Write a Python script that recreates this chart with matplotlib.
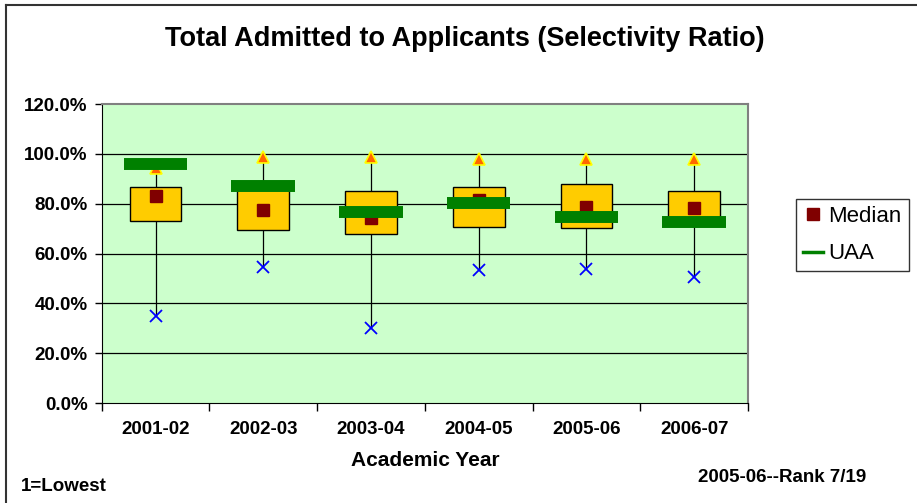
import numpy as np
import matplotlib.pyplot as plt
from matplotlib.lines import Line2D

plt.rcParams['font.family'] = ['Liberation Sans', 'DejaVu Sans']

years = ["2001-02", "2002-03", "2003-04", "2004-05", "2005-06", "2006-07"]
q1 = [73.0, 69.5, 67.7, 70.7, 70.2, 73.5]
q3 = [86.7, 86.0, 85.0, 86.7, 87.8, 85.0]
median = [82.9, 77.5, 74.2, 81.5, 78.6, 78.2]
uaa = [96.0, 87.0, 76.8, 80.4, 74.6, 72.7]
maxv = [94.5, 98.9, 98.9, 97.9, 98.0, 98.0]
minv = [34.9, 54.5, 30.2, 53.4, 53.9, 50.5]
yticks = [0, 20, 40, 60, 80, 100, 120]

x = np.arange(len(years))

fig = plt.figure(figsize=(9.17, 5.03), dpi=100)
ax = fig.add_axes([0.1109, 0.1988, 0.7048, 0.5944])
ax.set_facecolor('#CCFFCC')

# whiskers
ax.vlines(x, minv, maxv, color='black', lw=0.9, zorder=2)
# boxes
ax.bar(x, np.array(q3) - np.array(q1), bottom=q1, width=0.48,
       color='#FFCC00', edgecolor='black', lw=1, zorder=3)
ax.plot(x, median, 's', color='#800000', ms=8.6, zorder=4, label='Median')
ax.hlines(uaa, x - 0.295, x + 0.295, color='#008000', lw=8.6, zorder=5,
          capstyle='butt')
ax.plot(x, maxv, '^', color='#FF6600', mec='#FFFF00', mew=1.2, ms=9, zorder=4)
ax.plot(x, minv, 'x', color='#0000FF', ms=9, mew=1.3, zorder=4)

ax.set_xlim(-0.5, len(years) - 0.5)
ax.set_ylim(0, 120)
ax.set_yticks(yticks)
ax.set_yticklabels(["%.1f%%" % v for v in yticks], fontsize=13.5, fontweight='bold')
ax.set_xticks(x)
ax.set_xticklabels(years, fontsize=13.5, fontweight='bold')
ax.set_xticks(np.arange(-0.5, len(years)), minor=True)
ax.tick_params(axis='x', which='major', length=0, pad=13)
ax.tick_params(axis='x', which='minor', length=6, width=1)
ax.tick_params(axis='y', length=5, width=1, pad=5)
for v in yticks[1:-1]:
    ax.axhline(v, color='black', lw=0.9, zorder=1)
ax.spines['top'].set_color('#808080')
ax.spines['right'].set_color('#808080')
ax.spines['top'].set_linewidth(1.5)
ax.spines['right'].set_linewidth(1.5)

ax.set_xlabel("Academic Year", fontsize=15, fontweight='bold', labelpad=9)

fig.text(0.507, 0.922, "Total Admitted to Applicants (Selectivity Ratio)",
         ha='center', va='center', fontsize=19.5, fontweight='bold')
fig.text(0.023, 0.032, "1=Lowest", ha='left', va='center', fontsize=13.5,
         fontweight='bold')
fig.text(0.761, 0.050, "2005-06--Rank 7/19", ha='left', va='center',
         fontsize=13.5, fontweight='bold')

handles = [Line2D([], [], marker='s', ls='none', color='#800000', ms=8.6),
           Line2D([], [], color='#008000', lw=2.5)]
leg = fig.legend(handles, ['Median', 'UAA'], loc='upper left',
                 bbox_to_anchor=(0.868, 0.6044), bbox_transform=fig.transFigure,
                 borderaxespad=0, fontsize=16, frameon=True, fancybox=False,
                 handlelength=0.9, handletextpad=0.27, borderpad=0.3,
                 labelspacing=0.75)
leg.get_frame().set_edgecolor('black')
leg.get_frame().set_linewidth(1)

# chart border (left and top visible)
fig.add_artist(Line2D([5.5 / 917, 5.5 / 917], [0, 1 - 5 / 503],
                      transform=fig.transFigure, color='#333333', lw=1.5))
fig.add_artist(Line2D([5.5 / 917, 1], [1 - 5 / 503, 1 - 5 / 503],
                      transform=fig.transFigure, color='#333333', lw=1.5))

fig.savefig('out.png', dpi=100)
